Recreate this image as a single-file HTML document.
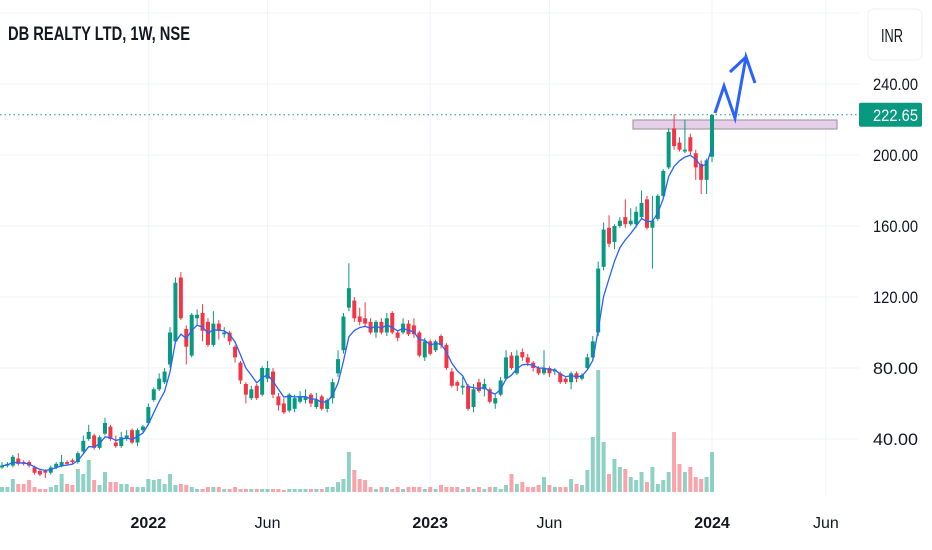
<!DOCTYPE html>
<html><head><meta charset="utf-8"><style>
html,body{margin:0;padding:0;background:#fff;}
svg{display:block;font-family:"Liberation Sans",sans-serif;}
</style></head><body>
<svg id="chart" width="932" height="550" viewBox="0 0 932 550" xmlns="http://www.w3.org/2000/svg">
<g id="grid"></g>
<g id="vol"></g>
<rect x="633" y="120" width="204" height="9" fill="#e6cfe9" stroke="#a99aab" stroke-width="1.2"/>
<g id="candles"></g>
<path id="ma" fill="none" stroke="#2962ff" stroke-width="1.3"/>
<line id="lastline" x1="0" x2="859" stroke="#089981" stroke-width="1" stroke-dasharray="1.5,3"/>
<g fill="none" stroke="#2962ff" stroke-width="3" stroke-linejoin="miter" stroke-linecap="butt">
<polyline points="715,113 724,86 735,118 746,57 755,83"/>
<line x1="730" y1="72" x2="746" y2="57"/>
</g>
<g id="yaxis" font-size="17" fill="#131722"></g>
<g id="xaxis" font-size="16" fill="#131722"></g>
<text x="8" y="40" font-size="19" font-weight="bold" fill="#131722" textLength="182" lengthAdjust="spacingAndGlyphs">DB REALTY LTD, 1W, NSE</text>
<rect x="868" y="9" width="54" height="51" rx="6" fill="#fff" stroke="#eef0f3"/>
<text x="881" y="42" font-size="18" fill="#131722" textLength="22" lengthAdjust="spacingAndGlyphs">INR</text>
</svg>
<script>
const opens=[24,25,25,29,27,27,24,22,22,21,24,25,27,28,27,33,40,42,35,43,47,38,36,40,45,38,45,49,62,68,72,82,95,131,102,87,108,111,106,93,105,99,100,92,83,71,63,70,65,74,78,64,60,56,57,61,62,65,58,64,57,63,77,90,114,118,109,108,106,100,106,100,111,100,100,105,104,100,86,95,90,98,93,78,72,69,70,58,72,68,68,60,65,74,87,77,89,86,83,80,77,80,78,77,74,72,77,74,80,86,100,137,159,151,160,165,161,161,165,175,159,164,177,193,215,207,202,210,201,195,186,199];
const closes=[25,26,30,26,26,25,21,20,21,24,26,27,26,27,32,39,44,35,41,49,40,36,41,42,38,45,47,58,68,74,78,100,128,108,92,110,110,101,93,105,101,100,95,86,73,65,68,63,80,80,65,59,55,65,63,64,64,60,62,57,62,72,85,109,125,108,106,105,100,106,100,108,100,97,105,99,99,87,95,88,95,93,80,70,70,70,57,68,67,71,61,63,73,86,80,87,86,83,80,77,80,77,79,72,72,77,74,76,86,95,136,158,150,160,163,161,163,168,173,159,163,177,191,213,205,203,203,202,193,186,197,222.65];
const highs=[27,27,31,32,28,28,25,23,23,25,27,31,28,29,33,42,48,43,42,52,48,42,44,45,46,46,48,60,69,77,80,103,131,134,104,111,113,116,108,112,107,103,101,93,84,72,70,71,81,84,80,66,63,66,65,67,68,66,66,65,63,74,90,111,139,120,114,117,108,107,108,111,112,101,108,107,108,101,97,96,96,99,94,80,73,75,71,71,74,74,69,65,75,90,89,90,91,88,84,81,90,81,80,78,75,78,78,77,88,98,140,162,166,161,165,175,170,171,180,177,177,178,192,215,223,210,220,212,203,197,198,223];
const lows=[23,24,24,25,25,24,20,19,18,20,23,24,25,26,26,32,39,34,34,42,39,35,35,39,37,36,44,48,61,67,71,80,94,107,82,86,104,95,92,92,96,97,93,83,71,60,62,62,64,72,63,56,54,55,55,60,60,58,57,56,55,60,75,88,112,106,104,103,99,97,99,98,99,95,99,98,97,86,84,87,89,91,79,69,67,65,56,55,66,64,60,57,64,73,79,76,84,81,78,76,76,75,76,71,71,68,72,73,79,84,98,135,148,147,159,159,160,159,164,158,136,163,176,192,203,202,201,200,186,178,178,196];
const volumes=[5,5,13,8,8,12,5,3,3,5,7,18,8,7,23,18,32,12,7,20,10,10,8,8,5,5,5,13,12,13,8,18,7,8,7,5,3,3,5,5,5,3,3,5,3,3,3,3,3,3,3,3,2,3,3,3,3,3,3,3,5,5,10,13,40,22,13,12,5,3,5,5,3,5,3,5,5,5,3,5,3,7,5,5,5,3,5,3,5,3,5,5,3,7,18,8,10,5,5,7,15,7,5,5,5,13,8,7,22,55,122,50,18,33,25,23,15,12,20,10,25,8,12,20,60,28,20,25,15,13,15,40];
const priceTicks=[40,80,120,160,200,240,280];
const timeLabels=["2022","Jun","2023","Jun","2024","Jun"];
const timeLabelWeeks=[27,49,79,101,131,152];
const timeLabelBold=[true,false,true,false,true,false];
const lastPrice=222.65;

const NS="http://www.w3.org/2000/svg";
function xs(i){return 2+i*5.42;}
function ys(v){return 84+(240-v)*1.775;}
function vs(v){return 492-v;}
function mk(tag,attrs,parent){const e=document.createElementNS(NS,tag);for(const k in attrs)e.setAttribute(k,attrs[k]);parent.appendChild(e);return e;}
const grid=document.getElementById('grid'),yax=document.getElementById('yaxis'),xax=document.getElementById('xaxis');
priceTicks.forEach(p=>{
  const l=mk('line',{x1:0,x2:859,y1:ys(p),y2:ys(p),stroke:'#f0f3fa','stroke-width':1},grid);
  
  
  if(p<280){
    const t=mk('text',{x:873,y:ys(p)+6,textLength:45,lengthAdjust:'spacingAndGlyphs'},yax);
    t.textContent=p.toFixed(2);
    
    
  }
});
timeLabels.forEach((lab,k)=>{
  const x=xs(timeLabelWeeks[k]);
  const l=mk('line',{x1:x,x2:x,y1:0,y2:495,stroke:'#f0f3fa','stroke-width':1},grid);
  
  
  const t=mk('text',{x:x,y:528,'text-anchor':'middle','font-weight':timeLabelBold[k]?'bold':'normal'},xax);
  t.textContent=lab;
  
  
});
const vol=document.getElementById('vol'),cg=document.getElementById('candles');
closes.forEach((c,i)=>{
  const o=opens[i],up=c>=o,col=up?'#089981':'#f23645';
  const x=xs(i);
  const vb=mk('rect',{x:x-2,y:vs(volumes[i]),width:4,height:volumes[i],fill:up?'rgba(8,153,129,0.45)':'rgba(242,54,69,0.45)'},vol);
  
  
  const w=mk('line',{x1:x,x2:x,y1:ys(highs[i]),y2:ys(lows[i]),stroke:col,'stroke-width':1},cg);
  
  
  const top=ys(Math.max(o,c)),h=Math.max(1,Math.abs(ys(o)-ys(c)));
  const b=mk('rect',{x:x-2,y:top,width:4,height:h,fill:col},cg);
  
  
});
let ema=closes[0],k=2/(5+1),d='';
closes.forEach((c,i)=>{ema=i===0?c:c*k+ema*(1-k);d+=(i?'L':'M')+xs(i).toFixed(1)+','+ys(ema).toFixed(1);});
document.getElementById('ma').setAttribute('d',d);
const ll=document.getElementById('lastline');ll.setAttribute('y1',ys(lastPrice));ll.setAttribute('y2',ys(lastPrice));
const lb=mk('rect',{x:859,y:ys(lastPrice)-12,width:63,height:24,rx:2,fill:'#089981'},yax);


const lt=mk('text',{x:873,y:ys(lastPrice)+6,fill:'#fff',textLength:45,lengthAdjust:'spacingAndGlyphs'},yax);
lt.textContent=lastPrice.toFixed(2);


</script>
</body></html>
